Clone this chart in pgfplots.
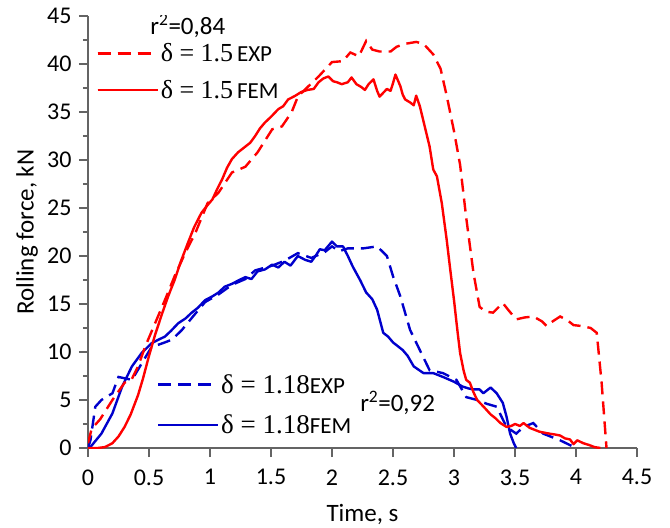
\documentclass[border=0pt]{standalone}
\usepackage{fontspec}
\setmainfont{Carlito}
\newfontfamily\serif{Liberation Serif}
\usepackage{pgfplots}
\pgfplotsset{compat=1.18}
\definecolor{myred}{RGB}{255,0,0}
\definecolor{myblue}{RGB}{0,0,204}
\definecolor{axgray}{RGB}{100,100,100}

\pgfplotstableread{
t y
0 0
0.08 0.0
0.14 0.1
0.20 0.5
0.25 1.2
0.30 2.2
0.35 3.5
0.41 5.5
0.45 7.2
0.50 9.6
0.55 11.8
0.61 14.1
0.66 15.9
0.71 17.5
0.76 19.4
0.82 21.4
0.87 23.0
0.93 24.5
0.98 25.3
1.02 25.9
1.06 27.0
1.10 28.0
1.14 29.2
1.18 30.1
1.23 30.8
1.29 31.4
1.33 31.8
1.37 32.5
1.41 33.3
1.45 33.9
1.50 34.5
1.56 35.3
1.60 35.6
1.64 36.3
1.70 36.7
1.75 37.1
1.80 37.3
1.85 37.4
1.89 38.1
1.93 38.5
1.97 38.7
2.01 38.2
2.04 38.1
2.08 37.9
2.13 38.1
2.16 38.6
2.20 37.9
2.24 37.6
2.27 37.3
2.30 37.9
2.34 38.4
2.37 37.2
2.39 36.6
2.42 37.0
2.45 37.4
2.48 37.2
2.50 38.0
2.52 38.9
2.56 37.7
2.58 36.8
2.60 36.3
2.64 36.0
2.67 35.7
2.69 36.7
2.72 35.6
2.76 33.5
2.80 31.4
2.83 29.0
2.86 28.3
2.90 25.5
2.94 21.7
2.97 18.5
3.00 15.4
3.03 12.0
3.05 9.9
3.08 8.0
3.10 7.1
3.13 6.8
3.16 5.8
3.19 5.0
3.22 4.6
3.25 4.2
3.30 3.5
3.34 3.1
3.38 2.6
3.43 2.2
3.47 2.3
3.50 2.5
3.54 2.3
3.57 2.6
3.62 2.1
3.66 1.9
3.70 1.7
3.78 1.5
3.83 1.4
3.87 1.3
3.91 1.0
3.95 0.9
3.98 0.4
4.01 0.8
4.06 0.5
4.11 0.3
4.15 0.1
4.20 0
}\redfem

\pgfplotstableread{
t y
0 0.5
0.03 2.0
0.10 3.0
0.20 5.0
0.30 6.8
0.36 7.2
0.41 8.5
0.47 10.6
0.55 13.0
0.63 15.4
0.71 17.9
0.80 20.4
0.88 22.4
0.98 25.5
1.07 26.6
1.18 28.7
1.29 29.3
1.39 30.8
1.51 33.2
1.59 33.5
1.67 35.0
1.72 36.6
1.80 37.6
1.89 38.7
2.00 40.2
2.09 40.3
2.15 41.2
2.22 40.8
2.28 42.4
2.33 41.5
2.39 41.3
2.48 41.3
2.53 41.8
2.60 42.1
2.69 42.3
2.75 42.1
2.83 41.0
2.89 39.5
2.94 36.7
3.00 33.0
3.05 29.5
3.10 24.0
3.16 18.2
3.21 14.7
3.26 14.2
3.32 14.1
3.40 15.1
3.45 14.3
3.51 13.4
3.58 13.6
3.65 13.7
3.72 13.2
3.76 12.7
3.81 13.2
3.87 13.7
3.93 13.3
3.98 12.8
4.05 12.7
4.12 12.5
4.17 12.0
4.21 6.8
4.25 0
}\redexp

\pgfplotstableread{
t y
0 0
0.02 0.1
0.11 1.5
0.20 3.6
0.28 6.4
0.36 8.5
0.44 9.9
0.52 10.9
0.58 11.3
0.63 11.6
0.68 12.2
0.74 13.0
0.80 13.5
0.85 14.1
0.90 14.6
0.96 15.4
1.02 15.8
1.07 16.2
1.12 16.8
1.18 17.1
1.24 17.5
1.29 17.8
1.34 17.6
1.39 18.4
1.45 18.6
1.51 19.1
1.56 18.8
1.61 19.4
1.66 19.0
1.72 20.0
1.78 19.6
1.83 19.4
1.87 20.1
1.90 20.7
1.94 20.6
2.00 21.5
2.04 21.0
2.09 21.0
2.13 20.0
2.17 18.9
2.23 17.5
2.28 16.2
2.33 15.5
2.37 14.4
2.42 12.0
2.46 11.6
2.50 11.0
2.58 10.2
2.62 9.6
2.67 8.5
2.75 7.8
2.83 7.8
2.91 7.4
3.00 6.9
3.07 6.4
3.12 6.2
3.16 6.1
3.21 6.1
3.24 5.7
3.30 6.3
3.35 5.7
3.40 4.7
3.43 3.3
3.46 1.5
3.49 0.5
3.51 0
}\bluefem

\pgfplotstableread{
t y
0 0
0.02 0.8
0.06 4.3
0.11 5.0
0.20 5.7
0.25 7.4
0.36 7.1
0.44 8.8
0.52 10.5
0.63 11.0
0.69 11.3
0.77 12.3
0.88 14.0
0.96 15.2
1.07 16.0
1.18 17.0
1.29 17.6
1.37 18.5
1.51 19.0
1.61 19.5
1.72 20.3
1.83 19.8
1.94 20.4
2.00 21.0
2.06 20.5
2.13 20.8
2.26 20.8
2.37 21.0
2.45 20.0
2.50 17.9
2.56 15.8
2.64 12.3
2.72 10.2
2.80 8.1
2.91 7.8
3.02 7.1
3.10 5.3
3.19 5.0
3.27 4.6
3.35 4.3
3.43 2.2
3.51 1.5
3.57 2.2
3.65 2.6
3.73 1.5
3.87 0.8
4.00 0
}\blueexp

\begin{document}
\begin{tikzpicture}
\pgfplotsset{
  common/.style={scale only axis, width=549pt, height=432pt,
    xmin=0, xmax=4.5, ymin=0, ymax=45,
    legend cell align=left,
    legend image code/.code={\path (0pt,0pt) -- (60pt,0pt); \draw[##1] (0pt,0pt) -- (48pt,0pt);},
    legend style={draw=none, fill=none, inner sep=0pt,
      font=\fontsize{23}{27}\selectfont,
      nodes={inner sep=2pt}},
  },
}
\begin{axis}[common, name=ax,
  axis lines=left, axis line style={-, axgray, line width=1.2pt},
  xtick={0,0.5,1,1.5,2,2.5,3,3.5,4,4.5},
  ytick={0,5,10,15,20,25,30,35,40,45},
  minor y tick num=1,
  tick align=outside, major tick length=9pt, minor tick length=5pt,
  tick style={axgray, line width=1.2pt},
  /pgf/number format/assume math mode=true,
  ticklabel style={font=\fontsize{24}{29}\selectfont},
  xticklabel style={yshift=-9pt},
  yticklabel style={xshift=-4pt},
  label style={font=\fontsize{25}{30}\selectfont},
  xlabel={Time, s},
  ylabel={Rolling force, kN},
  xlabel style={at={(axis description cs:0.5,-0.169)}, anchor=base},
  ylabel style={at={(axis description cs:-0.111,0.5)}, anchor=center},
  legend style={at={(axis description cs:0.125,0.176)}, anchor=north west, row sep=16pt},
]
\addplot[myblue, line width=2.4pt, dash pattern=on 13pt off 7pt] table {\blueexp};
\addlegendentry{{\serif\fontsize{27}{30}\selectfont δ = 1.18}EXP}
\addplot[myblue, line width=2.4pt, line join=round] table {\bluefem};
\addlegendentry{{\serif\fontsize{27}{30}\selectfont δ = 1.18}FEM}
\node[font=\fontsize{25}{28}\selectfont, anchor=base west, inner sep=0pt] at (axis cs:2.23,3.76) {r\textsuperscript{2}=0,92};
\node[font=\fontsize{25}{28}\selectfont, anchor=base west, inner sep=0pt] at (axis cs:0.51,43.1) {r\textsuperscript{2}=0,84};
\end{axis}
\begin{axis}[common, hide axis,
  legend style={at={(axis description cs:0.015,0.9415)}, anchor=north west, row sep=13pt},
]
\addplot[myred, line width=2.4pt, dash pattern=on 13pt off 7pt] table {\redexp};
\addlegendentry{{\serif\fontsize{26}{30}\selectfont δ = 1.5}\,EXP}
\addplot[myred, line width=2.4pt, line join=round] table {\redfem};
\addlegendentry{{\serif\fontsize{26}{30}\selectfont δ = 1.5}\,FEM}
\end{axis}
\path ([xshift=-88pt,yshift=-78pt]ax.south west) rectangle ([xshift=33pt,yshift=16pt]ax.north east);
\end{tikzpicture}
\end{document}
